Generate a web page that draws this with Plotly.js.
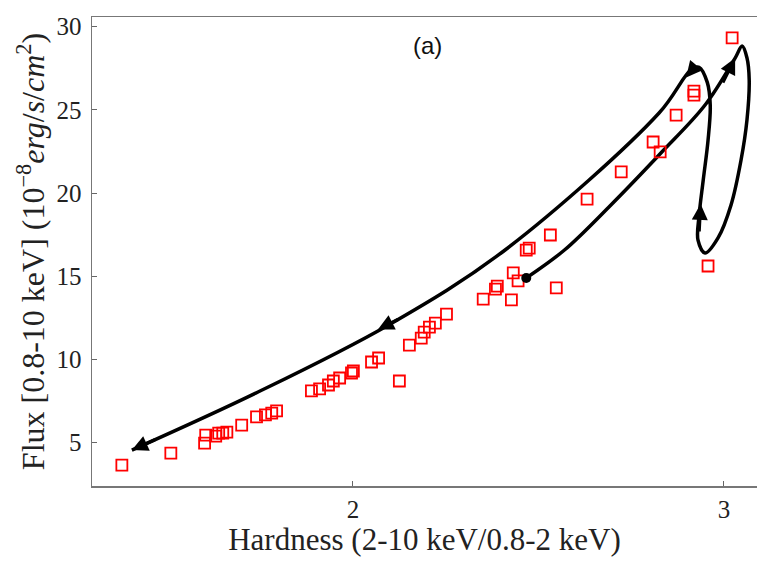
<!DOCTYPE html>
<html>
<head>
<meta charset="utf-8">
<script src="https://cdn.plot.ly/plotly-3.0.1.min.js"></script>
<style>html,body{margin:0;padding:0;background:#fff;}#chart{width:757px;height:566px;}</style>
</head>
<body>
<div id="chart"></div>
<script>
// Observed hardness ratio / flux points (red open squares)
const hardness = [1.377, 1.509, 1.600, 1.603, 1.630, 1.638, 1.649, 1.660, 1.700, 1.740, 1.764, 1.781, 1.794,
  1.888, 1.910, 1.934, 1.947, 1.964, 1.996, 2.001, 2.050, 2.069, 2.125, 2.152, 2.184, 2.192, 2.206, 2.222, 2.252,
  2.351, 2.384, 2.389, 2.427, 2.432, 2.445, 2.467, 2.475, 2.548, 2.532, 2.631, 2.723, 2.809, 2.828, 2.871,
  2.919, 2.919, 2.957, 3.022];
const flux = [3.66, 4.38, 4.98, 5.46, 5.40, 5.58, 5.58, 5.64, 6.06, 6.55, 6.67, 6.78, 6.91,
  8.11, 8.23, 8.47, 8.71, 8.89, 9.19, 9.31, 9.85, 10.09, 8.71, 10.87, 11.29, 11.65, 11.95, 12.19, 12.73,
  13.63, 14.23, 14.41, 13.58, 15.20, 14.72, 16.57, 16.69, 14.30, 17.48, 19.64, 21.27, 23.07, 22.47, 24.69,
  26.13, 25.89, 15.62, 29.32];

// Start point of the hysteresis track
const startHardness = [2.467];
const startFlux = [14.90];

// Hand-drawn hysteresis track (control points)
const pathHardness = [2.467, 2.570, 2.690, 2.830, 2.949, 3.030, 3.049, 3.062, 3.068, 3.062, 3.046,
  3.019, 2.984, 2.949, 2.930, 2.933, 2.944, 2.957, 2.963, 2.955, 2.933, 2.911,
  2.825, 2.410, 2.096, 1.744, 1.404];
const pathFlux = [14.90, 16.58, 19.17, 22.41, 25.29, 28.11, 28.84, 28.12, 26.80, 24.40, 21.99,
  19.29, 17.31, 16.40, 17.17, 18.67, 20.77, 23.17, 25.27, 26.65, 27.56, 27.40,
  24.81, 16.58, 12.08, 8.05, 4.56];

// Arrowheads along the track: tail -> tip
const arrowTailX = [2.995, 2.933, 2.922, 2.125, 1.470];
const arrowTailY = [26.55, 17.60, 27.60, 12.45, 5.22];
const arrowTipX = [3.030, 2.937, 2.898, 2.067, 1.404];
const arrowTipY = [28.11, 19.35, 26.95, 11.80, 4.56];

const xTicks = [2, 3];
const yTicks = [5, 10, 15, 20, 25, 30];

const serif = 'Liberation Serif, Times New Roman, serif';

const traces = [
  {
    x: pathHardness, y: pathFlux, type: 'scatter', mode: 'lines',
    line: {color: '#000', width: 3.5, shape: 'spline', smoothing: 1},
    hoverinfo: 'skip', showlegend: false
  },
  {
    x: hardness, y: flux, type: 'scatter', mode: 'markers',
    marker: {symbol: 'square-open', size: 11, color: '#ff0000', line: {width: 1.8, color: '#ff0000'}},
    showlegend: false
  },
  {
    x: startHardness, y: startFlux, type: 'scatter', mode: 'markers',
    marker: {symbol: 'circle', size: 10, color: '#000'},
    showlegend: false
  }
];

const annotations = arrowTipX.map((tx, i) => ({
  x: tx, y: arrowTipY[i], ax: arrowTailX[i], ay: arrowTailY[i],
  xref: 'x', yref: 'y', axref: 'x', ayref: 'y',
  text: '', showarrow: true, arrowhead: 2, arrowsize: 1.0, arrowwidth: 3.2, arrowcolor: '#000'
}));
annotations.push({
  text: '(a)', xref: 'paper', yref: 'paper', x: 0.505, y: 0.94, yanchor: 'middle',
  showarrow: false, font: {family: 'Liberation Sans, Arial, sans-serif', size: 24, color: '#111'}
});

const layout = {
  width: 757, height: 566,
  margin: {l: 92, r: 0, t: 17, b: 80},
  paper_bgcolor: '#fff', plot_bgcolor: '#fff',
  showlegend: false,
  xaxis: {
    range: [1.2965, 3.089], tickvals: xTicks, ticktext: xTicks.map(String),
    ticks: 'inside', ticklen: 5, tickwidth: 1, tickcolor: '#666',
    showline: true, linecolor: '#777', linewidth: 1.5, mirror: true,
    showgrid: false, zeroline: false, ticklabelstandoff: 0,
    tickfont: {family: serif, size: 25, color: '#222'},
    title: {text: 'Hardness (2-10 keV/0.8-2 keV)', font: {family: serif, size: 31, color: '#222'}, standoff: 6}
  },
  yaxis: {
    range: [2.40, 30.58], tickvals: yTicks, ticktext: yTicks.map(String),
    ticks: 'inside', ticklen: 5, tickwidth: 1, tickcolor: '#666',
    showline: true, linecolor: '#777', linewidth: 1.5, mirror: true,
    showgrid: false, zeroline: false, ticklabelstandoff: 4,
    tickfont: {family: serif, size: 25, color: '#222'},
    title: {text: 'Flux [0.8-10 keV] (10<sup>−8</sup><i>erg</i>/<i>s</i>/<i>cm</i><sup>2</sup>)', font: {family: serif, size: 32, color: '#222'}, standoff: 2}
  },
  annotations: annotations
};

Plotly.newPlot('chart', traces, layout, {displayModeBar: false, staticPlot: true});
</script>
</body>
</html>
